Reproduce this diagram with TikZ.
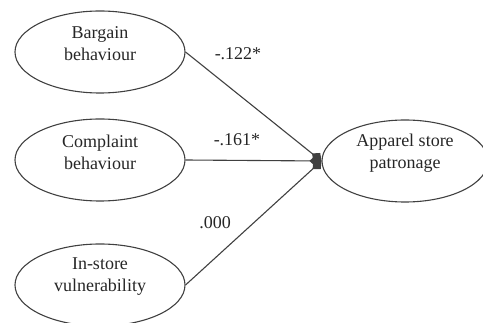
\documentclass[tikz,border=0pt]{standalone}
\usepackage{fontspec}
\setmainfont{Liberation Serif}
\usetikzlibrary{shapes.geometric, arrows.meta}
\tikzset{>={Diamond[length=12pt,width=11pt]}}
\tikzset{
  construct/.style={ellipse, draw=black!75, line width=1.1pt, minimum width=170pt, minimum height=82pt, inner sep=0pt},
  ctext/.style={align=center, font=\fontsize{18}{22}\selectfont, text=black!85, yshift=8pt},
  coef/.style={font=\fontsize{18}{22}\selectfont, text=black!85},
  effect/.style={->, line width=1.1pt, draw=black!75}
}

\begin{document}
\begin{tikzpicture}[x=1pt, y=-1pt]
     \useasboundingbox (0,0) rectangle (483,323);
     \node[construct, label={[ctext]center:{Bargain\\behaviour}}] (bargain) at (100,52) {};
     \node[construct, label={[ctext]center:{Complaint\\behaviour}}] (complaint) at (100,160) {};
     \node[construct, label={[ctext]center:{In-store\\vulnerability}}] (instore) at (100,285) {};
     \node[construct, minimum width=166pt, label={[ctext]center:{Apparel store\\patronage}}] (patronage) at (405,161) {};
     \draw[effect] (bargain.east) -- (patronage.west);
     \draw[effect] (complaint.east) -- (patronage.west);
     \draw[effect] (instore.east) -- (patronage.west);
     \node[coef] (bargaincoef) at (238,54) {-.122*};
     \node[coef] (complaintcoef) at (237,140) {-.161*};
     \node[coef] (instorecoef) at (215,223) {.000};
\end{tikzpicture}
\end{document}
